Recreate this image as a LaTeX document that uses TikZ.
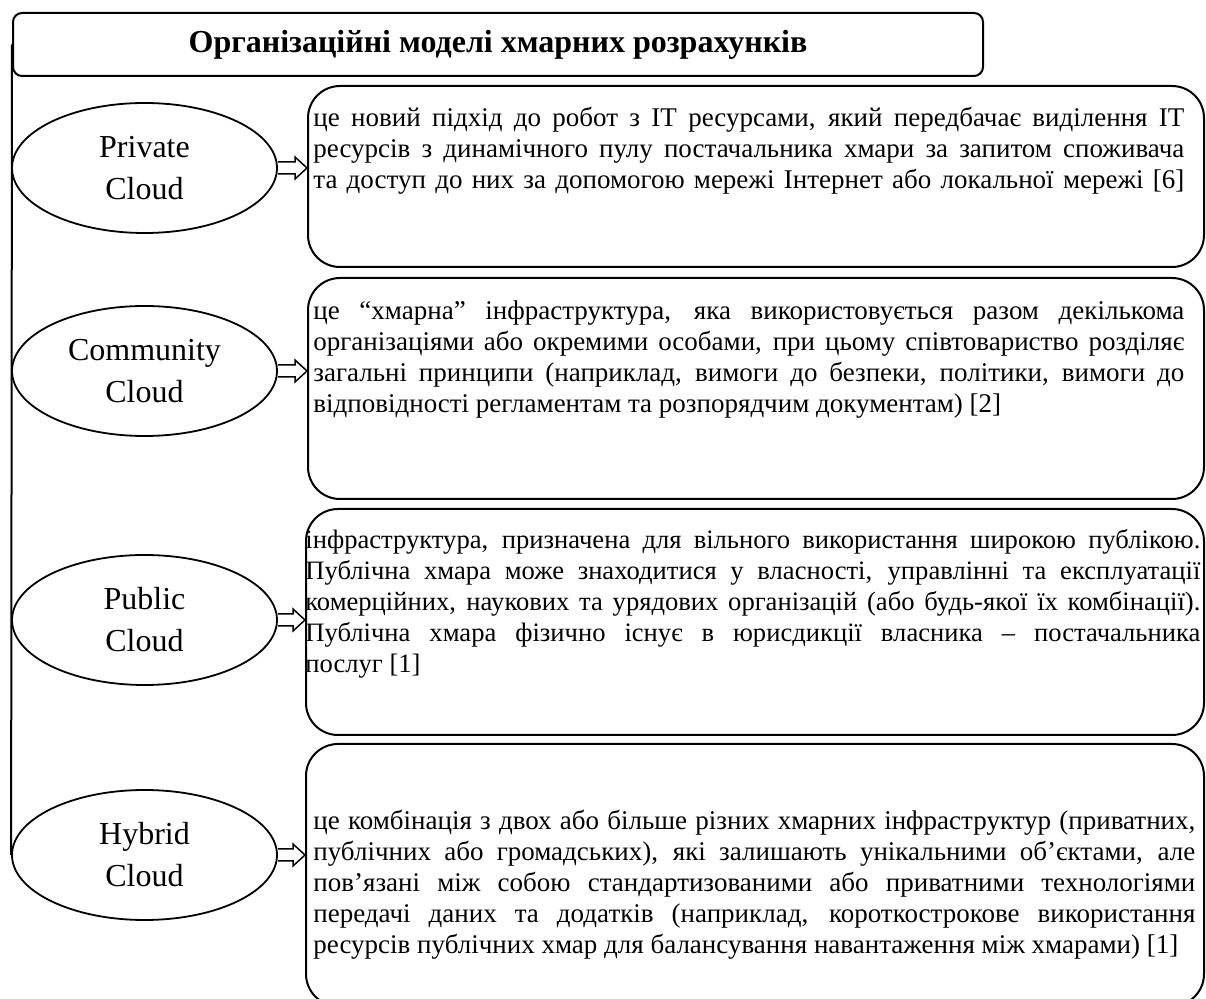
\documentclass[tikz,border=0pt]{standalone}
\usepackage{fontspec}
\setmainfont{Liberation Serif}
\usetikzlibrary{shapes.geometric,calc}
\newcommand\fullln[1]{\hbox to\hsize{\strut #1}}
\newcommand\lastln[1]{\hbox{\strut #1}}
\newcommand\parablock[2]{\vtop{\hsize=#1\relax #2}}
\newcommand\blockarr[2]{\draw[blockarrow] let \p1=(#1.east), \p2=(#2.west) in
  (\x1,\y1+3pt) -- (\x2-6pt,\y1+3pt) -- (\x2-6pt,\y1+5.5pt) -- (\x2,\y1)
  -- (\x2-6pt,\y1-5.5pt) -- (\x2-6pt,\y1-3pt) -- (\x1,\y1-3pt);}
\tikzset{
  framebox/.style={draw, line width=1pt, rounded corners=16pt, anchor=north west, inner sep=0pt},
  titlebox/.style={draw, line width=1pt, rounded corners=4.5pt, anchor=north west, inner sep=0pt,
    minimum width=485pt, minimum height=31.5pt},
  titletext/.style={inner sep=0pt, font=\fontsize{16pt}{19pt}\selectfont\bfseries},
  cloudnode/.style={draw, ellipse, line width=0.9pt, minimum width=132.5pt, minimum height=65pt,
    inner sep=0pt, align=center, font=\fontsize{16pt}{21pt}\selectfont},
  bodytext/.style={anchor=north west, inner sep=0pt, font=\fontsize{13.5pt}{15.5pt}\selectfont},
  bodysmall/.style={bodytext, font=\fontsize{13.3pt}{15.5pt}\selectfont},
  blockarrow/.style={draw, line width=0.75pt, line join=miter},
  trunk/.style={draw, line width=1pt},
}
\begin{document}
\begin{tikzpicture}[x=0.5pt,y=-0.5pt]
\useasboundingbox (0,0) rectangle (1206,999);
% title
\node[titlebox] (title) at (12,12) {};
\node[titletext] (ttl) at (title.center) {Організаційні моделі хмарних розрахунків};
% description boxes
\node[framebox, minimum width=448pt, minimum height=90.5pt] (b1) at (307,85) {};
\node[framebox, minimum width=448pt, minimum height=110.5pt] (b2) at (307,277) {};
\node[framebox, minimum width=449pt, minimum height=113pt] (b3) at (305,508) {};
\node[framebox, minimum width=449pt, minimum height=131pt] (b4) at (305,743) {};
% texts
\node[bodytext] (t1) at (313,104) {\parablock{435.5pt}{%
\fullln{це новий підхід до робот з IT ресурсами, який передбачає виділення IT}
\fullln{ресурсів з динамічного пулу постачальника хмари за запитом споживача}
\fullln{та доступ до них за допомогою мережі Інтернет або локальної мережі [6]}}};
\node[bodytext] (t2) at (313,297.3) {\parablock{435.5pt}{%
\fullln{це “хмарна” інфраструктура, яка використовується разом декількома}
\fullln{організаціями або окремими особами, при цьому співтовариство розділяє}
\fullln{загальні принципи (наприклад, вимоги до безпеки, політики, вимоги до}
\lastln{відповідності регламентам та розпорядчим документам) [2]}}};
\node[bodysmall] (t3) at (305,526.3) {\parablock{447.5pt}{%
\fullln{інфраструктура, призначена для вільного використання широкою публікою.}
\fullln{Публічна хмара може знаходитися у власності, управлінні та експлуатації}
\fullln{комерційних, наукових та урядових організацій (або будь-якої їх комбінації).}
\fullln{Публічна хмара фізично існує в юрисдикції власника – постачальника}
\lastln{послуг [1]}}};
\node[bodytext] (t4) at (313,807.3) {\parablock{441pt}{%
\fullln{це комбінація з двох або більше різних хмарних інфраструктур (приватних,}
\fullln{публічних або громадських), які залишають унікальними об’єктами, але}
\fullln{пов’язані між собою стандартизованими або приватними технологіями}
\fullln{передачі даних та додатків (наприклад, короткострокове використання}
\lastln{ресурсів публічних хмар для балансування навантаження між хмарами) [1]}}};
% ellipses
\node[cloudnode] (e1) at (144.5,168) {Private\\Cloud};
\node[cloudnode] (e2) at (144.5,371) {Community\\Cloud};
\node[cloudnode] (e3) at (144.5,620) {Public\\Cloud};
\node[cloudnode] (e4) at (144.5,855) {Hybrid\\Cloud};
% trunk line
\draw[trunk] (title.west) -- (e4.west);
% arrows
\blockarr{e1}{b1}
\blockarr{e2}{b2}
\blockarr{e3}{b3}
\blockarr{e4}{b4}
\end{tikzpicture}
\end{document}
